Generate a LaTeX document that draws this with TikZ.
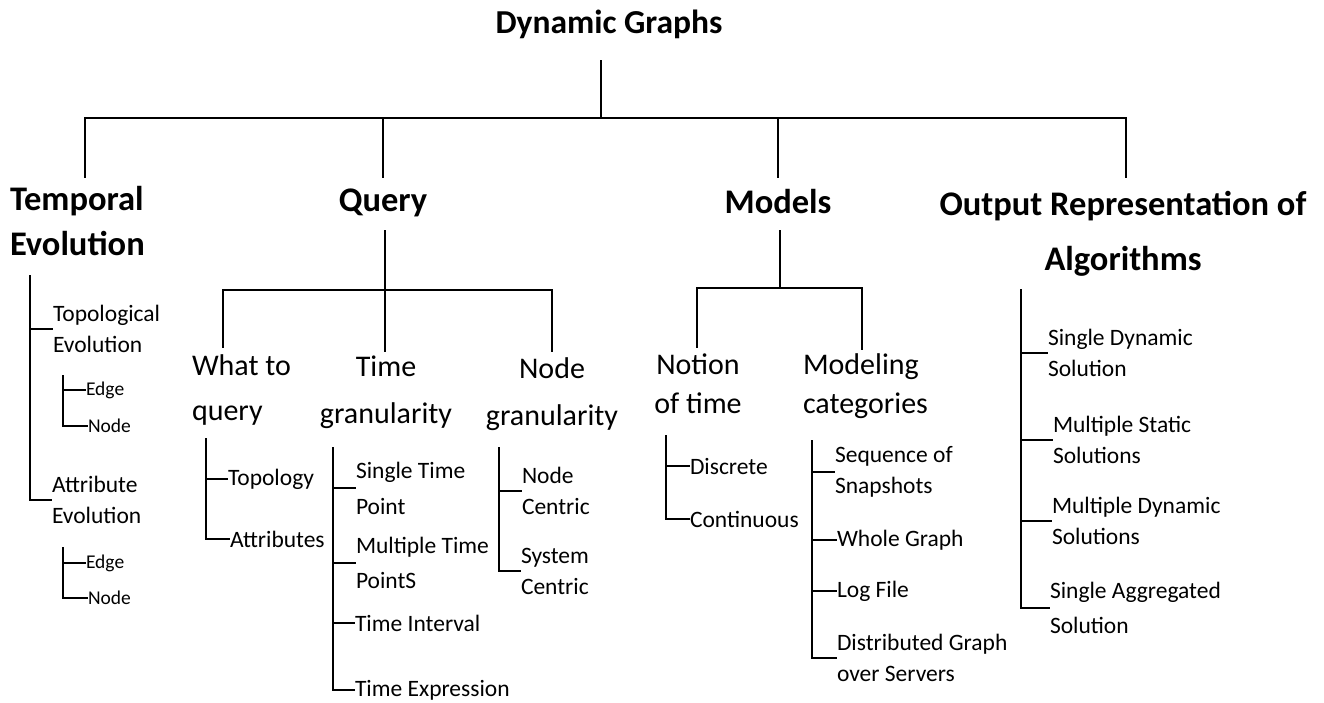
\documentclass[tikz,border=0pt]{standalone}
\usepackage{fontspec}
\setmainfont{Carlito}
\begin{document}
\begin{tikzpicture}[x=1pt, y=-1pt, line width=1.1pt,
    every node/.style={inner sep=0pt, outer sep=0pt},
    rootlabel/.style={font=\fontsize{33.5}{40}\selectfont\bfseries, anchor=base},
    headlabel/.style={font=\fontsize{34.5}{45}\selectfont\bfseries, align=center, anchor=base},
    sublabel/.style={font=\fontsize{30}{47}\selectfont, align=center, anchor=base},
    leaflabel/.style={font=\fontsize{23.5}{31}\selectfont, align=left, anchor=west},
    twiglabel/.style={font=\fontsize{19.5}{24}\selectfont, anchor=west}]
\useasboundingbox (0,0) rectangle (1324,702);

\node[rootlabel] (dg) at (609,33) {Dynamic Graphs};
\coordinate (dgstem) at (601,60);
\coordinate (dgbar) at (601,118);
\draw (dgstem) -- (dgbar);

\node[headlabel, align=left, anchor=base west] (tevo) at (10,255) {Temporal\\Evolution};
\node[headlabel] (qry) at (383,211) {Query};
\node[headlabel] (mdl) at (778,213) {Models};
\node[headlabel] (outrep) at (1123,270) {Output Representation of\\[10pt]Algorithms};
\coordinate (tevoin) at (85,178);
\coordinate (qryin) at (383,178);
\coordinate (mdlin) at (778,178);
\coordinate (outin) at (1126,178);
\draw (dgbar) -| (tevoin);
\draw (dgbar) -| (qryin);
\draw (dgbar) -| (mdlin);
\draw (dgbar) -| (outin);

\coordinate (tevotrunk) at (30,275);
\node[leaflabel] (topoevo) at (53,329) {Topological\\Evolution};
\node[leaflabel] (attrevo) at (52,500) {Attribute\\Evolution};
\draw (tevotrunk) |- (topoevo.west);
\draw (tevotrunk) |- (attrevo.west);
\coordinate (topotrunk) at (63,375);
\node[twiglabel] (topoedge) at (86,390) {Edge};
\node[twiglabel] (toponode) at (88,426) {Node};
\draw (topotrunk) |- (topoedge.west);
\draw (topotrunk) |- (toponode.west);
\coordinate (attrtrunk) at (63,547);
\node[twiglabel] (attredge) at (86,563) {Edge};
\node[twiglabel] (attrnode) at (88,598) {Node};
\draw (attrtrunk) |- (attredge.west);
\draw (attrtrunk) |- (attrnode.west);

\coordinate (qryout) at (385,230);
\coordinate (qrybar) at (385,290);
\draw (qryout) -- (qrybar);
\node[sublabel, font=\fontsize{30}{45}\selectfont, align=left, anchor=base west] (what) at (192,420) {What to\\query};
\node[sublabel] (timegr) at (386,423) {Time\\granularity};
\node[sublabel] (nodegr) at (552,425) {Node\\granularity};
\coordinate (whatin) at (223,348);
\coordinate (timegrin) at (385,352);
\coordinate (nodegrin) at (552,352);
\draw (qrybar) -| (whatin);
\draw (qrybar) -| (timegrin);
\draw (qrybar) -| (nodegrin);

\coordinate (whattrunk) at (206,438);
\node[leaflabel] (topology) at (228,479) {Topology};
\node[leaflabel] (attributes) at (230,539) {Attributes};
\draw (whattrunk) |- (topology.west);
\draw (whattrunk) |- (attributes.west);

\coordinate (timetrunk) at (333,447);
\node[leaflabel] (singletp) at (356,488) {Single Time\\[5pt]Point};
\node[leaflabel] (multitp) at (356,563) {Multiple Time\\[4pt]PointS};
\node[leaflabel] (tinterval) at (355,623) {Time Interval};
\node[leaflabel] (texpr) at (355,690) {Time Expression};
\draw (timetrunk) |- (singletp.west);
\draw (timetrunk) |- (multitp.west);
\draw (timetrunk) |- (tinterval.west);
\draw (timetrunk) |- (texpr.west);

\coordinate (nodetrunk) at (499,447);
\node[leaflabel] (nodecen) at (522,491) {Node\\Centric};
\node[leaflabel] (syscen) at (521,571) {System\\Centric};
\draw (nodetrunk) |- (nodecen.west);
\draw (nodetrunk) |- (syscen.west);

\coordinate (mdlout) at (780,230);
\coordinate (mdlbar) at (780,288);
\draw (mdlout) -- (mdlbar);
\node[sublabel, font=\fontsize{30}{38.5}\selectfont] (notion) at (698,413) {Notion\\of time};
\node[sublabel, font=\fontsize{30}{38.5}\selectfont, align=left, anchor=base west] (modcat) at (803,413) {Modeling\\categories};
\coordinate (notionin) at (697,348);
\coordinate (modcatin) at (862,350);
\draw (mdlbar) -| (notionin);
\draw (mdlbar) -| (modcatin);

\coordinate (notiontrunk) at (666,435);
\node[leaflabel] (discrete) at (690,466) {Discrete};
\node[leaflabel] (continuous) at (690,519) {Continuous};
\draw (notiontrunk) |- (discrete.west);
\draw (notiontrunk) |- (continuous.west);

\coordinate (modcattrunk) at (812,440);
\node[leaflabel] (seqsnap) at (835,472) {Sequence of\\Snapshots};
\node[leaflabel] (whole) at (837,540) {Whole Graph};
\node[leaflabel] (logfile) at (837,591) {Log File};
\node[leaflabel] (distgr) at (837,658) {Distributed Graph\\over Servers};
\draw (modcattrunk) |- (seqsnap.west);
\draw (modcattrunk) |- (whole.west);
\draw (modcattrunk) |- (logfile.west);
\draw (modcattrunk) |- (distgr.west);

\coordinate (outtrunk) at (1021,289);
\node[leaflabel] (sds) at (1048,353) {Single Dynamic\\Solution};
\node[leaflabel] (mss) at (1053,440) {Multiple Static\\Solutions};
\node[leaflabel] (mds) at (1052,521) {Multiple Dynamic\\Solutions};
\node[leaflabel] (sas) at (1050,608) {Single Aggregated\\[4pt]Solution};
\draw (outtrunk) |- (sds.west);
\draw (outtrunk) |- (mss.west);
\draw (outtrunk) |- (mds.west);
\draw (outtrunk) |- (sas.west);
\end{tikzpicture}
\end{document}
